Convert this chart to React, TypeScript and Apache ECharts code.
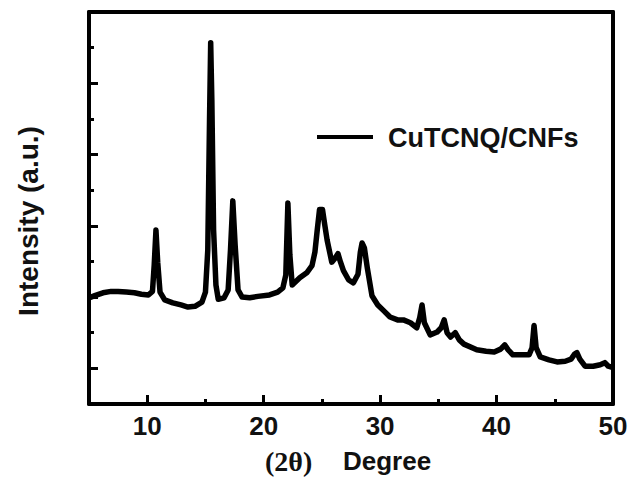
import React, { useEffect, useRef } from "react";
import * as echarts from "echarts";

// 2θ (degree) positions and intensity (a.u.)
const twoTheta = [
  5.0, 5.5, 6.2, 6.9, 7.5, 8.2, 8.9, 9.5, 10.1, 10.45, 10.6, 10.75, 10.9, 11.1, 11.5,
  12.2, 12.9, 13.5, 14.1, 14.7, 15.0, 15.2, 15.35, 15.45, 15.55, 15.7, 15.9, 16.1, 16.6,
  16.95, 17.15, 17.35, 17.55, 17.8, 18.15, 18.8, 19.5, 20.5, 21.2, 21.65, 21.9, 22.08,
  22.25, 22.45, 23.1, 23.7, 24.15, 24.4, 24.6, 24.8, 25.05, 25.25, 25.45, 25.85, 26.15,
  26.38, 26.6, 26.85, 27.3, 27.7, 28.1, 28.3, 28.45, 28.65, 28.9, 29.3, 29.8, 30.3,
  30.85, 31.5, 32.0, 32.6, 33.15, 33.4, 33.6, 33.8, 34.3, 34.9, 35.25, 35.5, 35.75,
  36.05, 36.45, 36.8, 37.2, 38.3, 39.1, 39.8, 40.35, 40.7, 41.0, 41.4, 42.1, 42.8,
  43.05, 43.22, 43.4, 43.75, 44.5, 45.2, 45.9, 46.4, 46.7, 46.9, 47.15, 47.6, 48.3,
  48.9, 49.3, 49.6, 50.0,
];
const intensity = [
  149, 152, 156, 158, 158, 157, 156, 154, 153, 158, 195, 244, 199, 157, 146,
  142, 139, 136, 137, 143, 157, 216, 398, 507, 426, 244, 167, 147, 149,
  160, 216, 285, 223, 160, 150, 149, 151, 153, 157, 163, 181, 282,
  209, 167, 177, 184, 194, 213, 244, 273, 273, 251, 230, 199, 205,
  211, 199, 187, 174, 170, 182, 213, 226, 219, 191, 152, 139, 131,
  122, 118, 118, 114, 107, 121, 139, 114, 97, 101, 107, 118, 100,
  94, 100, 90, 84, 76, 74, 73, 77, 83, 76, 69, 69, 69,
  79, 110, 79, 66, 62, 59, 60, 63, 70, 72, 63, 53, 53,
  55, 58, 53, 51,
];

const xMajorTicks = [10, 20, 30, 40, 50];
const xMinorTicks = [15, 25, 35, 45];
const yMajorTicks = [50, 150, 250, 350, 450];
const yMinorTicks = [100, 200, 300, 400, 500];

const seriesName = "CuTCNQ/CNFs";
const xTitleA = "(2θ)";
const xTitleB = "Degree";
const yTitle = "Intensity (a.u.)";

const SANS = "'Liberation Sans', Arial, Helvetica, sans-serif";
const SERIF = "'Liberation Serif', 'Times New Roman', serif";

export default function App() {
  const ref = useRef<HTMLDivElement>(null);
  useEffect(() => {
    if (!ref.current) return;
    document.body.style.margin = "0";
    const chart = echarts.init(ref.current, undefined, { renderer: "svg" });
    const data = twoTheta.map((x, i) => [x, intensity[i]]);
    const frame = { show: true, lineStyle: { color: "#000", width: 4 } };
    chart.setOption({
      animation: false,
      backgroundColor: "#fff",
      grid: { left: 89, right: 21, top: 12, bottom: 77, containLabel: false },
      xAxis: [
        {
          type: "value", min: 5, max: 50, position: "bottom",
          axisLine: { ...frame, onZero: false },
          axisTick: { show: true, inside: true, length: 9, lineStyle: { color: "#000", width: 3 }, customValues: xMajorTicks },
          axisLabel: { show: true, customValues: xMajorTicks, margin: 9, fontSize: 26, fontWeight: "bold", fontFamily: SANS, color: "#111" },
          splitLine: { show: false },
        },
        {
          type: "value", min: 5, max: 50, position: "bottom",
          axisLine: { show: false, onZero: false },
          axisTick: { show: true, inside: true, length: 5, lineStyle: { color: "#000", width: 3 }, customValues: xMinorTicks },
          axisLabel: { show: false },
          splitLine: { show: false },
        },
        {
          type: "value", min: 5, max: 50, position: "top",
          axisLine: { ...frame, onZero: false },
          axisTick: { show: false }, axisLabel: { show: false }, splitLine: { show: false },
        },
      ],
      yAxis: [
        {
          type: "value", min: 0, max: 550, position: "left",
          axisLine: { ...frame, onZero: false },
          axisTick: { show: true, inside: true, length: 9, lineStyle: { color: "#000", width: 3 }, customValues: yMajorTicks },
          axisLabel: { show: false }, splitLine: { show: false },
        },
        {
          type: "value", min: 0, max: 550, position: "left",
          axisLine: { show: false, onZero: false },
          axisTick: { show: true, inside: true, length: 5, lineStyle: { color: "#000", width: 3 }, customValues: yMinorTicks },
          axisLabel: { show: false }, splitLine: { show: false },
        },
        {
          type: "value", min: 0, max: 550, position: "right",
          axisLine: { ...frame, onZero: false },
          axisTick: { show: false }, axisLabel: { show: false }, splitLine: { show: false },
        },
      ],
      series: [
        {
          name: seriesName,
          type: "line",
          xAxisIndex: 0,
          yAxisIndex: 0,
          data,
          showSymbol: false,
          symbol: "none",
          lineStyle: { color: "#000", width: 5.5, join: "round" },
          itemStyle: { color: "#000" },
        },
      ],
      graphic: [
        { type: "line", shape: { x1: 317, y1: 137, x2: 373, y2: 137 }, style: { stroke: "#000", lineWidth: 4 } },
        {
          type: "text", x: 388, y: 138,
          style: { text: seriesName, fontSize: 27, fontWeight: "bold", fontFamily: SANS, fill: "#111", align: "left", verticalAlign: "middle" },
        },
        {
          type: "text", x: 28, y: 221, rotation: Math.PI / 2,
          style: { text: yTitle, fontSize: 28, fontWeight: "bold", fontFamily: SANS, fill: "#111", align: "center", verticalAlign: "middle" },
        },
        {
          type: "text", x: 265, y: 461,
          style: { text: xTitleA, fontSize: 28, fontWeight: "bold", fontFamily: SERIF, fill: "#111", align: "left", verticalAlign: "middle" },
        },
        {
          type: "text", x: 343, y: 461,
          style: { text: xTitleB, fontSize: 26, fontWeight: "bold", fontFamily: SANS, fill: "#111", align: "left", verticalAlign: "middle" },
        },
      ],
    });
    return () => chart.dispose();
  }, []);
  return <div ref={ref} style={{ width: 634, height: 481 }} />;
}
